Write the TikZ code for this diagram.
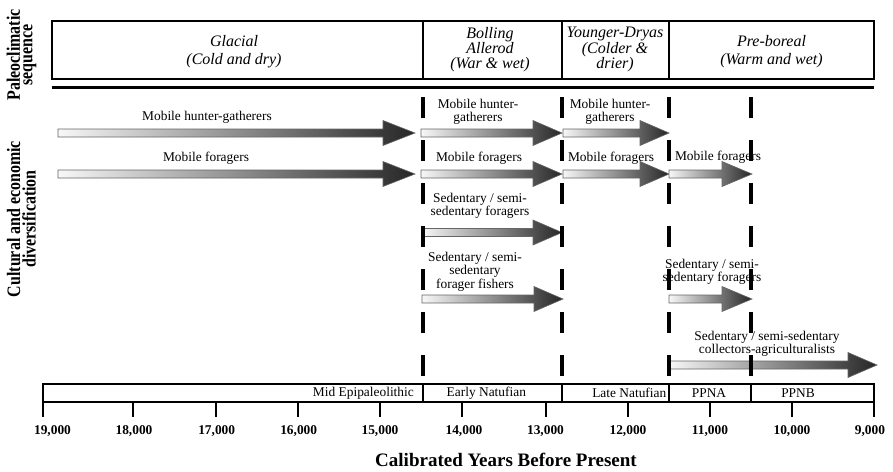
\documentclass[tikz,border=0pt]{standalone}
\usepackage{fontspec}
\setmainfont{Liberation Serif}
\newfontfamily\condserif[FakeStretch=0.84]{Liberation Serif}
\newcommand\gradarrow[4]{%
  \path[garrow] (#1,#3-4) -- (#2-#4,#3-4) -- (#2-#4,#3-12.5) -- (#2,#3)
    -- (#2-#4,#3+12.5) -- (#2-#4,#3+4) -- (#1,#3+4) -- cycle;}
\begin{document}
\begin{tikzpicture}[x=1pt,y=-1pt,
  lbl/.style={font=\fontsize{13.4}{13.3}\selectfont, align=center, inner sep=0pt},
  tl/.style={font=\fontsize{13.4}{13.3}\selectfont, inner sep=0pt},
  ticklbl/.style={font=\fontsize{13.4}{13.3}\selectfont\bfseries, inner sep=0pt},
  eratwo/.style={font=\fontsize{16}{18}\selectfont\itshape, align=center, inner sep=0pt},
  erathree/.style={font=\fontsize{16}{14.5}\selectfont\itshape, align=center, inner sep=0pt},
  vlab/.style={rotate=90, align=center, inner sep=0pt},
  garrow/.style={draw=black!60, line width=0.6pt, left color=black!3, right color=black!85},
  divline/.style={line width=4pt, dash pattern=on 21pt off 22pt},
  frame/.style={line width=2pt},
  tickmark/.style={line width=2.5pt}
]
\useasboundingbox (0,0) rectangle (893,471);

% paleoclimatic sequence box
\draw[frame] (51.5,21) rectangle (874,79);
\foreach \x in {422.5,562,669} \draw[frame] (\x,21) -- (\x,79);
\draw[line width=3.5pt] (51.5,87.5) -- (874,87.5);

\node[eratwo] (glacial) at (234,52) {Glacial\\(Cold and dry)};
\node[erathree] (bolling) at (490,49.5) {Bolling\\Allerod\\(War \& wet)};
\node[erathree] (ydryas) at (615,49.5) {Younger-Dryas\\(Colder \&\\drier)};
\node[eratwo] (preboreal) at (771.5,51.5) {Pre-boreal\\(Warm and wet)};

% side labels
\node[vlab, font={\fontsize{19}{12.5}\condserif\bfseries}] (paleo) at (21.5,55) {Paleoclimatic\\sequence};
\node[vlab, font={\fontsize{19}{15.5}\condserif\bfseries}] (cultural) at (21.3,219) {Cultural and economic\\diversification};

% arrows
\gradarrow{58}{415}{133}{32}
\gradarrow{58}{415}{174}{32}
\gradarrow{421}{562}{133}{29}
\gradarrow{421}{562}{174}{29}
\gradarrow{563}{669}{133}{29}
\gradarrow{563}{669}{174}{29}
\gradarrow{669}{752}{174}{30}
\gradarrow{422}{562}{232.5}{29}
\gradarrow{422}{563}{299}{29}
\gradarrow{669}{752}{299}{30}
\gradarrow{669}{877}{365}{29}

% arrow labels
\node[lbl] (mhg1) at (207,117) {Mobile hunter-gatherers};
\node[lbl] (mf1) at (206,158) {Mobile foragers};
\node[lbl] (mhg2) at (478,111.5) {Mobile hunter-\\gatherers};
\node[lbl] (mf2) at (479,158) {Mobile foragers};
\node[lbl] (ssf2) at (480,205.5) {Sedentary / semi-\\sedentary foragers};
\node[lbl] (ssff2) at (475,271.5) {Sedentary / semi-\\sedentary\\forager fishers};
\node[lbl] (mhg3) at (610,111.5) {Mobile hunter-\\gatherers};
\node[lbl] (mf3) at (611,158) {Mobile foragers};
\node[lbl] (mf4) at (718,157) {Mobile foragers};
\node[lbl] (ssf4) at (712,271.5) {Sedentary / semi-\\sedentary foragers};
\node[lbl] (sca4) at (767,344) {Sedentary / semi-sedentary\\collectors-agriculturalists};

% timeline
\draw[frame] (43,384) rectangle (874,402);
\foreach \x in {422.5,562,669,751} \draw[frame] (\x,384) -- (\x,402);
\draw[tickmark] (43,384) -- (43,417);
\draw[tickmark] (874,384) -- (874,417);
\foreach \x in {133,216,298,380,462,546,628,710,792} \draw[tickmark] (\x,402) -- (\x,417);

\node[tl, anchor=east] (mid) at (414,393) {Mid Epipaleolithic};
\node[tl, anchor=west] (early) at (446.5,393) {Early Natufian};
\node[tl, anchor=east] (late) at (666.5,393) {Late Natufian};
\node[tl] (ppna) at (709,393) {PPNA};
\node[tl] (ppnb) at (798,393) {PPNB};

\foreach \x/\t [count=\i] in {52.5/{19,000},134/{18,000},216.7/{17,000},298.7/{16,000},380/{15,000},464/{14,000},545.5/{13,000},628/{12,000},710/{11,000},792/{10,000},870/{9,000}}
  \node[ticklbl] (tk\i) at (\x,431) {\t};

\node[font=\fontsize{19}{19}\selectfont\bfseries, inner sep=0pt] (axistitle) at (506,460) {Calibrated Years Before Present};

% period boundaries
\foreach \x in {422.5,562,669,751} \draw[divline] (\x,97) -- (\x,384);
\end{tikzpicture}
\end{document}
